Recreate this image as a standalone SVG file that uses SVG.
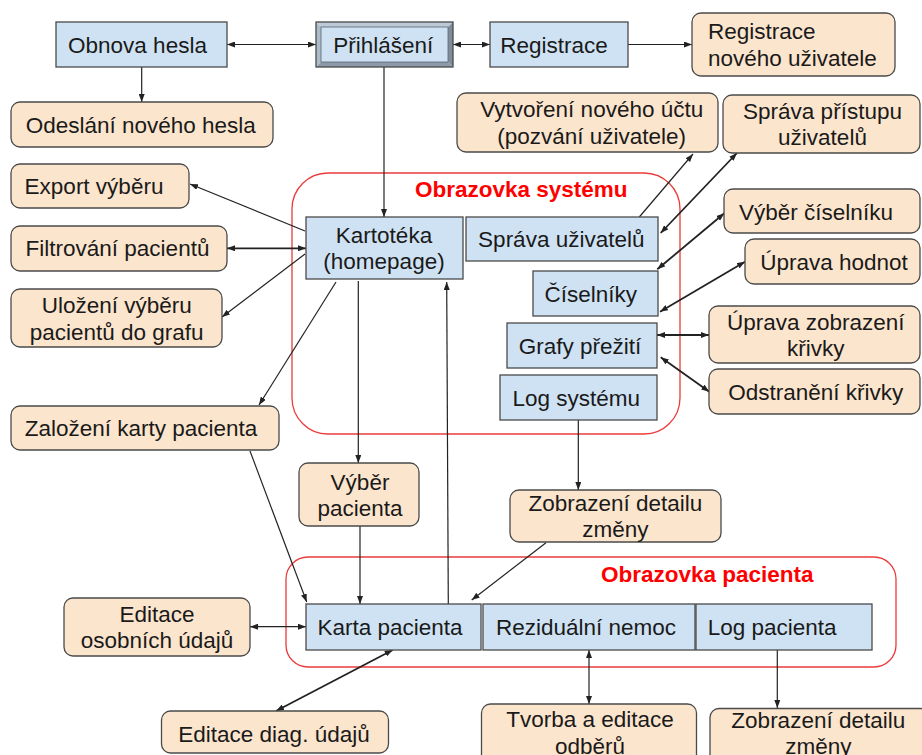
<svg xmlns="http://www.w3.org/2000/svg" width="922" height="755" viewBox="0 0 922 755">
  <style>
    .scr { fill: #cfe2f3; stroke: #4a4a4a; stroke-width: 1.3; }
    .act { fill: #fce5cd; stroke: #4a4a4a; stroke-width: 1.3; }
    .zone { fill: none; stroke: #ec3b3b; stroke-width: 1.3; }
    .t { font-family: "Liberation Sans", Arial, sans-serif; font-size: 22.5px; fill: #1a1a1a; text-anchor: middle; }
    .ts { text-anchor: start; }
    .zt { font-family: "Liberation Sans", Arial, sans-serif; font-size: 22.5px; font-weight: bold; fill: #ff0000; }
    .c { stroke: #222; stroke-width: 1.2; fill: none; marker-end: url(#ah); }
    .b { marker-start: url(#ah); }
    .w { stroke-width: 1.8; }
  </style>
  <defs>
    <marker id="ah" viewBox="0 0 8 6" refX="8" refY="3" markerWidth="8" markerHeight="6" markerUnits="userSpaceOnUse" orient="auto-start-reverse">
      <path d="M0,0 L8,3 L0,6 z" fill="#222"/>
    </marker>
  </defs>

  <rect width="922" height="755" fill="#ffffff"/>

  <!-- screen zones -->
  <g id="zone-system">
    <rect class="zone" x="292" y="173" width="388" height="261" rx="36"/>
    <text class="zt" x="415" y="196.5">Obrazovka systému</text>
  </g>
  <g id="zone-patient">
    <rect class="zone" x="286" y="557" width="610" height="110" rx="22"/>
    <text class="zt" x="601" y="582">Obrazovka pacienta</text>
  </g>

  <!-- connectors -->
  <g id="connectors">
    <line class="c b" x1="227" y1="44.5" x2="316" y2="44.5"/>
    <line class="c b" x1="453" y1="44.5" x2="490" y2="44.5"/>
    <line class="c" x1="628" y1="44.5" x2="692" y2="44.5"/>
    <line class="c" x1="141.7" y1="67" x2="141.7" y2="102"/>
    <line class="c" x1="384" y1="67" x2="384" y2="217"/>
    <line class="c" x1="305" y1="231" x2="190" y2="184"/>
    <line class="c b w" x1="227" y1="248.3" x2="306" y2="248.3"/>
    <line class="c" x1="305" y1="254" x2="222" y2="317"/>
    <line class="c" x1="336" y1="282" x2="259" y2="405"/>
    <line class="c" x1="358.3" y1="281" x2="358.3" y2="463"/>
    <line class="c" x1="448.3" y1="604" x2="446.7" y2="282"/>
    <line class="c" x1="250" y1="451" x2="306.7" y2="602"/>
    <line class="c" x1="360" y1="526" x2="360" y2="604"/>
    <line class="c b" x1="250" y1="626.7" x2="306" y2="626.7"/>
    <line class="c b w" x1="392.7" y1="650" x2="276" y2="711"/>
    <line class="c" x1="546" y1="542.7" x2="471.7" y2="600"/>
    <line class="c" x1="578.3" y1="420" x2="578.3" y2="490"/>
    <line class="c b" x1="589" y1="650" x2="589" y2="704"/>
    <line class="c" x1="777.3" y1="650" x2="777.3" y2="708"/>
    <line class="c" x1="639.3" y1="217" x2="693" y2="154"/>
    <line class="c b w" x1="660.7" y1="233" x2="737" y2="153"/>
    <line class="c b w" x1="657.3" y1="269.3" x2="724.3" y2="213.3"/>
    <line class="c b w" x1="660" y1="311.7" x2="745" y2="261.7"/>
    <line class="c b w" x1="657" y1="335" x2="709" y2="335"/>
    <line class="c b w" x1="660.7" y1="357.3" x2="709.3" y2="391.7"/>
  </g>

  <!-- login area -->
  <g id="obnova-hesla">
    <rect class="scr" x="56" y="22" width="171" height="45"/>
    <text class="t" x="137.5" y="53">Obnova hesla</text>
  </g>
  <g id="prihlaseni">
    <!-- bevelled frame: light top/left, dark bottom/right -->
    <polygon points="316,22 453,22 448,27 321,27" fill="#bccad7"/>
    <polygon points="316,22 321,27 321,62 316,67" fill="#aebcca"/>
    <polygon points="453,22 453,67 448,62 448,27" fill="#7f8c99"/>
    <polygon points="316,67 453,67 448,62 321,62" fill="#8c99a6"/>
    <rect x="316" y="22" width="137" height="45" fill="none" stroke="#4a4a4a" stroke-width="1.3"/>
    <rect x="321" y="27" width="127" height="35" fill="#cfe2f3" stroke="#5a6570" stroke-width="0.8"/>
    <text class="t" x="383.3" y="53">Přihlášení</text>
  </g>
  <g id="registrace">
    <rect class="scr" x="490" y="22" width="138" height="45"/>
    <text class="t" x="554" y="53">Registrace</text>
  </g>
  <g id="registrace-noveho">
    <rect class="act" x="692" y="13" width="203" height="63" rx="9"/>
    <text class="t ts" x="708" y="39.3">Registrace</text>
    <text class="t ts" x="708" y="65.8">nového uživatele</text>
  </g>
  <g id="odeslani-hesla">
    <rect class="act" x="11" y="102" width="262" height="45" rx="9"/>
    <text class="t" x="140.8" y="132.5">Odeslání nového hesla</text>
  </g>
  <g id="vytvoreni-uctu">
    <rect class="act" x="457" y="93" width="261" height="59" rx="9"/>
    <text class="t" x="591.7" y="117.3">Vytvoření nového účtu</text>
    <text class="t" x="591.7" y="143.8">(pozvání uživatele)</text>
  </g>
  <g id="sprava-pristupu">
    <rect class="act" x="723" y="95" width="197" height="58" rx="9"/>
    <text class="t" x="822.5" y="118.8">Správa přístupu</text>
    <text class="t" x="822.5" y="145.3">uživatelů</text>
  </g>

  <!-- system screen -->
  <g id="export-vyberu">
    <rect class="act" x="11" y="164" width="178" height="44" rx="9"/>
    <text class="t" x="94" y="194">Export výběru</text>
  </g>
  <g id="filtrovani">
    <rect class="act" x="11" y="226" width="216" height="45" rx="9"/>
    <text class="t" x="117.5" y="256.3">Filtrování pacientů</text>
  </g>
  <g id="ulozeni-vyberu">
    <rect class="act" x="11" y="289" width="211" height="58" rx="9"/>
    <text class="t" x="116.7" y="313">Uložení výběru</text>
    <text class="t" x="116.7" y="339.5">pacientů do grafu</text>
  </g>
  <g id="zalozeni-karty">
    <rect class="act" x="11" y="406" width="268" height="44" rx="9"/>
    <text class="t" x="141" y="436.3">Založení karty pacienta</text>
  </g>
  <g id="kartoteka">
    <rect class="scr" x="306" y="217" width="157" height="62"/>
    <text class="t" x="384" y="242.8">Kartotéka</text>
    <text class="t" x="384" y="269.3">(homepage)</text>
  </g>
  <g id="sprava-uzivatelu">
    <rect class="scr" x="466" y="217" width="192" height="44"/>
    <text class="t" x="561.3" y="247.3">Správa uživatelů</text>
  </g>
  <g id="ciselniky">
    <rect class="scr" x="533" y="271" width="125" height="45"/>
    <text class="t" x="590.8" y="301.5">Číselníky</text>
  </g>
  <g id="grafy-preziti">
    <rect class="scr" x="507" y="323" width="150" height="45"/>
    <text class="t" x="580" y="353.5">Grafy přežití</text>
  </g>
  <g id="log-systemu">
    <rect class="scr" x="500" y="375" width="157" height="45"/>
    <text class="t" x="576.3" y="406">Log systému</text>
  </g>
  <g id="vyber-ciselniku">
    <rect class="act" x="724" y="189" width="196" height="44" rx="9"/>
    <text class="t" x="816" y="219.5">Výběr číselníku</text>
  </g>
  <g id="uprava-hodnot">
    <rect class="act" x="745" y="239" width="175" height="45" rx="9"/>
    <text class="t" x="834" y="270">Úprava hodnot</text>
  </g>
  <g id="uprava-zobrazeni">
    <rect class="act" x="709" y="306" width="211" height="57" rx="9"/>
    <text class="t" x="815.8" y="329.8">Úprava zobrazení</text>
    <text class="t" x="815.8" y="356.3">křivky</text>
  </g>
  <g id="odstraneni-krivky">
    <rect class="act" x="709" y="369" width="211" height="45" rx="9"/>
    <text class="t" x="815.7" y="400">Odstranění křivky</text>
  </g>

  <!-- patient screen -->
  <g id="vyber-pacienta">
    <rect class="act" x="299" y="463" width="120" height="63" rx="9"/>
    <text class="t" x="360" y="489.8">Výběr</text>
    <text class="t" x="360" y="516.3">pacienta</text>
  </g>
  <g id="detail-zmeny-system">
    <rect class="act" x="510" y="490" width="211" height="52" rx="9"/>
    <text class="t" x="615.4" y="510.5">Zobrazení detailu</text>
    <text class="t" x="615.4" y="537">změny</text>
  </g>
  <g id="karta-pacienta">
    <rect class="scr" x="306" y="604" width="175" height="46"/>
    <text class="t" x="390" y="635">Karta pacienta</text>
  </g>
  <g id="rezidualni-nemoc">
    <rect class="scr" x="483" y="604" width="212" height="46"/>
    <text class="t" x="586" y="635">Reziduální nemoc</text>
  </g>
  <g id="log-pacienta">
    <rect class="scr" x="696" y="604" width="176" height="46"/>
    <text class="t ts" x="707.7" y="635">Log pacienta</text>
  </g>
  <g id="editace-osobnich">
    <rect class="act" x="64" y="598" width="186" height="58" rx="9"/>
    <text class="t" x="157" y="621.8">Editace</text>
    <text class="t" x="157" y="648.3">osobních údajů</text>
  </g>
  <g id="editace-diag">
    <rect class="act" x="161.5" y="711" width="227" height="42" rx="9"/>
    <text class="t" x="274" y="741.7">Editace diag. údajů</text>
  </g>
  <g id="tvorba-odberu">
    <rect class="act" x="481.5" y="704" width="215" height="70" rx="9"/>
    <text class="t" x="590" y="727">Tvorba a editace</text>
    <text class="t" x="590" y="753.5">odběrů</text>
  </g>
  <g id="detail-zmeny-pacient">
    <rect class="act" x="710" y="708.5" width="220" height="70" rx="9"/>
    <text class="t" x="818.3" y="727.5">Zobrazení detailu</text>
    <text class="t" x="818.3" y="754">změny</text>
  </g>
</svg>
